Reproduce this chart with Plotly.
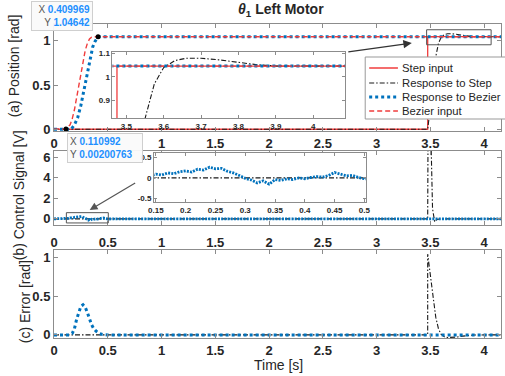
import plotly.graph_objects as go

# ---------------- data ----------------
step_t = [0, 3.475, 3.475, 4.2]
step_v = [0, 0, 1.0464, 1.0464]

resp_step_t = [0, 3.475, 3.5, 3.525, 3.55, 3.575, 3.6, 3.63, 3.66, 3.7, 3.75, 3.8, 3.85, 3.9, 4.0, 4.2]
resp_step_v = [0, 0, 0.25, 0.55, 0.82, 0.97, 1.04, 1.07, 1.08, 1.08, 1.073, 1.062, 1.052, 1.047, 1.046, 1.046]

bez_in_t = [0, 0.11, 0.15, 0.17, 0.19, 0.21, 0.23, 0.25, 0.27, 0.29, 0.31, 0.33, 0.35, 0.37, 4.2]
bez_in_v = [0, 0.002, 0.05, 0.12, 0.22, 0.36, 0.5, 0.64, 0.78, 0.89, 0.97, 1.02, 1.04, 1.0464, 1.0464]

resp_bez_t = [0, 0.16, 0.19, 0.22, 0.25, 0.28, 0.30, 0.32, 0.34, 0.36, 0.38, 0.40, 0.41, 4.2]
resp_bez_v = [0, 0, 0.05, 0.13, 0.27, 0.45, 0.58, 0.71, 0.83, 0.93, 0.99, 1.03, 1.0464, 1.0464]

ctrl_step_t = [0, 3.475, 3.478, 3.505, 3.52, 3.54, 3.56, 3.6, 4.2]
ctrl_step_v = [0, 0, 8.0, 8.0, 1.0, -0.3, -0.05, 0, 0]

ctrl_bez_t = [0, 0.11, 0.12, 0.13, 0.14, 0.15, 0.16, 0.17, 0.18, 0.19, 0.20, 0.21, 0.22, 0.23, 0.24,
              0.25, 0.26, 0.27, 0.28, 0.29, 0.30, 0.31, 0.32, 0.33, 0.34, 0.35, 0.36, 0.37, 0.38,
              0.39, 0.40, 0.41, 0.42, 0.43, 0.44, 0.45, 0.46, 0.47, 0.48, 0.49, 0.50, 0.55, 4.2]
ctrl_bez_v = [0, 0.0, 0.03, 0.06, 0.05, 0.09, 0.07, 0.12, 0.10, 0.15, 0.17, 0.14, 0.21, 0.19, 0.26,
              0.22, 0.23, 0.16, 0.12, 0.06, -0.01, -0.05, -0.12, -0.07, -0.15, -0.04, -0.06, -0.02, -0.04,
              0.0, -0.02, 0.01, 0.03, 0.02, 0.06, 0.13, 0.09, 0.05, 0.06, 0.01, -0.02, 0, 0]

err_step_t = [0, 3.475, 3.475, 3.5, 3.525, 3.55, 3.575, 3.6, 3.63, 3.66, 3.7, 3.75, 3.8, 3.85, 3.9, 4.0, 4.2]
err_step_v = [0, 0, 1.0464, 0.80, 0.50, 0.23, 0.08, 0.006, -0.024, -0.034, -0.034, -0.027, -0.016, -0.006, -0.001, 0, 0]

err_bez_t = [0, 0.14, 0.17, 0.19, 0.21, 0.23, 0.25, 0.27, 0.29, 0.31, 0.33, 0.35, 0.37, 0.39, 0.42, 0.45, 0.5, 4.2]
err_bez_v = [0, 0, 0.02, 0.08, 0.2, 0.3, 0.37, 0.39, 0.36, 0.29, 0.2, 0.13, 0.08, 0.05, 0.02, 0.005, 0, 0]

tip1 = (0.409969, 1.04642)
tip2 = (0.110992, 0.00200763)

x_ticks = [0, 0.5, 1, 1.5, 2, 2.5, 3, 3.5, 4]
x_ticktext = ["0", "0.5", "1", "1.5", "2", "2.5", "3", "3.5", "4"]
# the top panel's "0.5" label is hidden under the second data tip in the reference
x_ticktext_top = ["0", "", "1", "1.5", "2", "2.5", "3", "3.5", "4"]
legend_names = ["Step input", "Response to Step", "Response to Bezier", "Bezier input"]

# ---------------- style ----------------
F = "Liberation Sans, Arial, sans-serif"
RED = "#F03C3C"
BLK = "#1a1a1a"
BLUE = "#0072BD"
AX = "#8c8c8c"
DASHDOT = "5px,2px,1.5px,2px"
DOT = "3px,3px"
DASH = "5px,3px"

W, H = 505, 376
L, T, B = 54, 24, 38
PW = W - L
PH = H - T - B


def px(xp):
    return (xp - L) / PW


def py(yp):
    return (H - B - yp) / PH


fig = go.Figure()


def add4(xa, ya):
    fig.add_trace(go.Scatter(x=step_t, y=step_v, mode="lines", line=dict(color=RED, width=1.3),
                             xaxis=xa, yaxis=ya, showlegend=False, hoverinfo="skip"))
    fig.add_trace(go.Scatter(x=resp_step_t, y=resp_step_v, mode="lines",
                             line=dict(color=BLK, width=1.1, dash=DASHDOT),
                             xaxis=xa, yaxis=ya, showlegend=False, hoverinfo="skip"))
    fig.add_trace(go.Scatter(x=resp_bez_t, y=resp_bez_v, mode="lines",
                             line=dict(color=BLUE, width=3, dash=DOT),
                             xaxis=xa, yaxis=ya, showlegend=False, hoverinfo="skip"))
    fig.add_trace(go.Scatter(x=bez_in_t, y=bez_in_v, mode="lines",
                             line=dict(color=RED, width=1.4, dash=DASH),
                             xaxis=xa, yaxis=ya, showlegend=False, hoverinfo="skip"))


add4("x", "y")
add4("x4", "y4")

fig.add_trace(go.Scatter(x=[tip1[0], tip2[0]], y=[tip1[1], tip2[1]], mode="markers",
                         marker=dict(color="black", size=5), xaxis="x", yaxis="y",
                         showlegend=False, hoverinfo="skip"))

for xa, ya in (("x2", "y2"), ("x5", "y5")):
    fig.add_trace(go.Scatter(x=ctrl_step_t, y=ctrl_step_v, mode="lines",
                             line=dict(color=BLK, width=1.1, dash=DASHDOT),
                             xaxis=xa, yaxis=ya, showlegend=False, hoverinfo="skip"))
    fig.add_trace(go.Scatter(x=ctrl_bez_t, y=ctrl_bez_v, mode="lines",
                             line=dict(color=BLUE, width=2.8, dash="2px,1.2px"),
                             xaxis=xa, yaxis=ya, showlegend=False, hoverinfo="skip"))

fig.add_trace(go.Scatter(x=err_step_t, y=err_step_v, mode="lines",
                         line=dict(color=BLK, width=1.1, dash=DASHDOT),
                         xaxis="x3", yaxis="y3", showlegend=False, hoverinfo="skip"))
fig.add_trace(go.Scatter(x=err_bez_t, y=err_bez_v, mode="lines",
                         line=dict(color=BLUE, width=3, dash=DOT),
                         xaxis="x3", yaxis="y3", showlegend=False, hoverinfo="skip"))


def axs(size=13, **kw):
    d = dict(showline=True, linecolor=AX, linewidth=1, mirror="allticks", ticks="inside",
             ticklen=4, tickcolor=AX, showgrid=False, zeroline=False,
             tickfont=dict(size=size, color="#262626", family=F, weight="bold"))
    d.update(kw)
    return d


XR = [0, (W - L) / 108.5]
fig.update_layout(
    width=W, height=H, margin=dict(l=L, r=0, t=T, b=B),
    paper_bgcolor="white", plot_bgcolor="white",
    xaxis=axs(domain=[0, 1], anchor="y", range=XR, tickvals=x_ticks, ticktext=x_ticktext_top),
    yaxis=axs(domain=[py(131), 1], anchor="x", range=[-0.02, 1.19], tickvals=[0, 0.5, 1],
              ticktext=["0", "0.5", "1"]),
    xaxis2=axs(domain=[0, 1], anchor="y2", range=XR, tickvals=x_ticks, ticktext=x_ticktext,
               ticklabelstandoff=5),
    yaxis2=axs(domain=[py(225), py(151)], anchor="x2", range=[-0.6, 6.6], tickvals=[0, 2, 4, 6],
               ticktext=["0", "2", "4", "6"]),
    xaxis3=axs(domain=[0, 1], anchor="y3", range=XR, tickvals=x_ticks, ticktext=x_ticktext),
    yaxis3=axs(domain=[0, py(250)], anchor="x3", range=[-0.04, 1.1], tickvals=[0, 0.5, 1],
               ticktext=["0", "0.5", "1"]),
    xaxis4=axs(size=8, domain=[px(113), px(348)], anchor="y4", range=[3.463, 4.086],
               tickvals=[3.5, 3.6, 3.7, 3.8, 3.9, 4.0], ticktext=["3.5", "3.6", "3.7", "3.8", "3.9", "4"],
               ticklen=3),
    yaxis4=axs(size=8, domain=[py(118), py(52)], anchor="x4", range=[0.823, 1.107],
               tickvals=[0.9, 1.0, 1.1], ticktext=["0.9", "1", "1.1"], ticklen=3),
    xaxis5=axs(size=8, domain=[px(155), px(369)], anchor="y5", range=[0.147, 0.503],
               tickvals=[0.15, 0.2, 0.25, 0.3, 0.35, 0.4, 0.45, 0.5],
               ticktext=["0.15", "0.2", "0.25", "0.3", "0.35", "0.4", "0.45", "0.5"], ticklen=3),
    yaxis5=axs(size=8, domain=[py(202), py(153)], anchor="x5", range=[-0.58, 0.60],
               tickvals=[-0.5, 0, 0.5], ticktext=["-0.5", "0", "0.5"], ticklen=3),
    font=dict(family=F, color="#262626"),
)

shapes = []
# zoom rectangles
shapes.append(dict(type="rect", xref="x", yref="y", x0=3.465, x1=4.065, y0=0.955, y1=1.125,
                   line=dict(color="#555", width=1)))
shapes.append(dict(type="rect", xref="x2", yref="y2", x0=0.115, x1=0.505, y0=-0.4, y1=0.6,
                   line=dict(color="#555", width=1)))
# legend box
shapes.append(dict(type="rect", xref="paper", yref="paper", x0=px(368), x1=px(520),
                   y0=py(119), y1=py(57), fillcolor="white", line=dict(color="#999", width=1)))
leg_y = [68, 83, 97, 111]
leg_styles = [dict(color=RED, width=1.5), dict(color=BLK, width=1.1, dash=DASHDOT),
              dict(color=BLUE, width=3, dash=DOT), dict(color=RED, width=1.5, dash=DASH)]
annotations = []
for yy, st, name in zip(leg_y, leg_styles, legend_names):
    shapes.append(dict(type="line", xref="paper", yref="paper", x0=px(372), x1=px(401),
                       y0=py(yy), y1=py(yy), line=st))
    annotations.append(dict(xref="paper", yref="paper", x=px(403), y=py(yy), xanchor="left",
                            yanchor="middle", text=name, showarrow=False,
                            font=dict(size=11.3, family=F, color="#262626")))
fig.update_layout(shapes=shapes)

# arrows
annotations.append(dict(xref="paper", yref="paper", x=px(415), y=py(43), ax=-65, ay=9, text="",
                        showarrow=True, arrowhead=2, arrowsize=1.3, arrowwidth=1.3, arrowcolor="#333"))
annotations.append(dict(xref="paper", yref="paper", x=px(90), y=py(210), ax=47, ay=-28, text="",
                        showarrow=True, arrowhead=2, arrowsize=1.3, arrowwidth=1.2, arrowcolor="#555"))

# title
annotations.append(dict(xref="paper", yref="paper", x=px(283), y=py(10), xanchor="center",
                        yanchor="middle", showarrow=False,
                        text="<b><i>θ</i><sub>1</sub> Left Motor</b>",
                        font=dict(size=14, family=F, color="#262626")))
# y titles
for text, xx, yy in (("(a) Position [rad]", 14, 66), ("(b) Control Signal [V]", 19, 195),
                     ("(c) Error [rad]", 25, 302)):
    annotations.append(dict(xref="paper", yref="paper", x=px(xx), y=py(yy), xanchor="center",
                            yanchor="middle", textangle=-90, showarrow=False, text=text,
                            font=dict(size=14, family=F, color="#262626")))
# x title
annotations.append(dict(xref="paper", yref="paper", x=px(281), y=py(365), xanchor="center",
                        yanchor="middle", showarrow=False, text="Time [s]",
                        font=dict(size=14, family=F, color="#262626")))

# data tips
TIPC = "#1E90FF"
annotations.append(dict(xref="paper", yref="paper", x=px(62), y=py(16), xanchor="center",
                        yanchor="middle", showarrow=False, align="right",
                        text=f"X <span style='color:{TIPC}'><b>{tip1[0]}</b></span><br>"
                             f"Y <span style='color:{TIPC}'><b>{tip1[1]}</b></span>",
                        font=dict(size=10, family=F, color="#555"),
                        bgcolor="rgba(250,250,250,0.95)", bordercolor="#cfcfcf", borderwidth=1,
                        borderpad=2, width=56))
annotations.append(dict(xref="paper", yref="paper", x=px(105), y=py(147.5), xanchor="center",
                        yanchor="middle", showarrow=False, align="left",
                        text=f"X <span style='color:{TIPC}'><b>{tip2[0]}</b></span><br>"
                             f"Y <span style='color:{TIPC}'><b>{tip2[1]}</b></span>",
                        font=dict(size=10, family=F, color="#555"),
                        bgcolor="rgba(250,250,250,0.95)", bordercolor="#cfcfcf", borderwidth=1,
                        borderpad=2, width=70))
fig.update_layout(annotations=annotations)

fig.write_html("out.html")
